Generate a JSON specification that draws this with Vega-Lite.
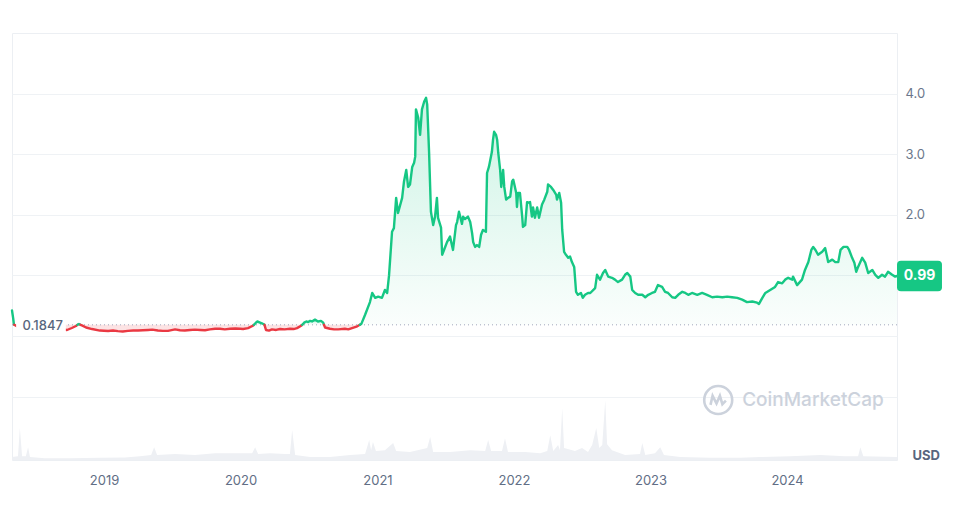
{
  "$schema": "https://vega.github.io/schema/vega-lite/v6.json",
  "width": 885,
  "height": 427,
  "autosize": {"type": "none"},
  "padding": {"left": 12, "top": 33, "right": 66, "bottom": 56},
  "background": "#ffffff",
  "config": {"view": {"stroke": "#eceff3"}, "font": "Inter"},
  "datasets": {
    "one": [{}],
    "price": [
      {"date": "2018-04-30", "price": 0.42, "seg": 1, "dir": "up"},
      {"date": "2018-05-03", "price": 0.30, "seg": 1, "dir": "up"},
      {"date": "2018-05-05", "price": 0.20, "seg": 1, "dir": "up"},
      {"date": "2018-05-06", "price": 0.1847, "seg": 1, "dir": "up"},
      {"date": "2018-05-06", "price": 0.1847, "seg": 2, "dir": "down"},
      {"date": "2018-05-16", "price": 0.15, "seg": 2, "dir": "down"},
      {"date": "2018-06-04", "price": 0.13, "seg": 2, "dir": "down"},
      {"date": "2018-06-30", "price": 0.14, "seg": 2, "dir": "down"},
      {"date": "2018-07-27", "price": 0.12, "seg": 2, "dir": "down"},
      {"date": "2018-08-23", "price": 0.13, "seg": 2, "dir": "down"},
      {"date": "2018-09-11", "price": 0.11, "seg": 2, "dir": "down"},
      {"date": "2018-09-24", "price": 0.099, "seg": 2, "dir": "down"},
      {"date": "2018-10-07", "price": 0.132, "seg": 2, "dir": "down"},
      {"date": "2018-10-18", "price": 0.165, "seg": 2, "dir": "down"},
      {"date": "2018-10-22", "price": 0.1847, "seg": 2, "dir": "down"},
      {"date": "2018-10-22", "price": 0.1847, "seg": 3, "dir": "up"},
      {"date": "2018-10-26", "price": 0.198, "seg": 3, "dir": "up"},
      {"date": "2018-10-30", "price": 0.1847, "seg": 3, "dir": "up"},
      {"date": "2018-10-30", "price": 0.1847, "seg": 4, "dir": "down"},
      {"date": "2018-11-03", "price": 0.175, "seg": 4, "dir": "down"},
      {"date": "2018-11-14", "price": 0.14, "seg": 4, "dir": "down"},
      {"date": "2018-11-30", "price": 0.115, "seg": 4, "dir": "down"},
      {"date": "2018-12-21", "price": 0.09, "seg": 4, "dir": "down"},
      {"date": "2019-01-12", "price": 0.083, "seg": 4, "dir": "down"},
      {"date": "2019-01-25", "price": 0.09, "seg": 4, "dir": "down"},
      {"date": "2019-02-07", "price": 0.08, "seg": 4, "dir": "down"},
      {"date": "2019-02-20", "price": 0.075, "seg": 4, "dir": "down"},
      {"date": "2019-03-06", "price": 0.085, "seg": 4, "dir": "down"},
      {"date": "2019-03-20", "price": 0.09, "seg": 4, "dir": "down"},
      {"date": "2019-04-02", "price": 0.09, "seg": 4, "dir": "down"},
      {"date": "2019-04-15", "price": 0.095, "seg": 4, "dir": "down"},
      {"date": "2019-04-29", "price": 0.10, "seg": 4, "dir": "down"},
      {"date": "2019-05-10", "price": 0.105, "seg": 4, "dir": "down"},
      {"date": "2019-05-25", "price": 0.09, "seg": 4, "dir": "down"},
      {"date": "2019-06-07", "price": 0.085, "seg": 4, "dir": "down"},
      {"date": "2019-06-21", "price": 0.085, "seg": 4, "dir": "down"},
      {"date": "2019-07-10", "price": 0.11, "seg": 4, "dir": "down"},
      {"date": "2019-07-23", "price": 0.095, "seg": 4, "dir": "down"},
      {"date": "2019-08-05", "price": 0.09, "seg": 4, "dir": "down"},
      {"date": "2019-08-19", "price": 0.10, "seg": 4, "dir": "down"},
      {"date": "2019-09-01", "price": 0.105, "seg": 4, "dir": "down"},
      {"date": "2019-09-15", "price": 0.10, "seg": 4, "dir": "down"},
      {"date": "2019-09-28", "price": 0.095, "seg": 4, "dir": "down"},
      {"date": "2019-10-11", "price": 0.11, "seg": 4, "dir": "down"},
      {"date": "2019-10-25", "price": 0.12, "seg": 4, "dir": "down"},
      {"date": "2019-11-07", "price": 0.12, "seg": 4, "dir": "down"},
      {"date": "2019-11-20", "price": 0.11, "seg": 4, "dir": "down"},
      {"date": "2019-12-04", "price": 0.12, "seg": 4, "dir": "down"},
      {"date": "2019-12-18", "price": 0.125, "seg": 4, "dir": "down"},
      {"date": "2019-12-31", "price": 0.12, "seg": 4, "dir": "down"},
      {"date": "2020-01-08", "price": 0.115, "seg": 4, "dir": "down"},
      {"date": "2020-01-21", "price": 0.13, "seg": 4, "dir": "down"},
      {"date": "2020-02-03", "price": 0.17, "seg": 4, "dir": "down"},
      {"date": "2020-02-06", "price": 0.1847, "seg": 4, "dir": "down"},
      {"date": "2020-02-06", "price": 0.1847, "seg": 5, "dir": "up"},
      {"date": "2020-02-11", "price": 0.22, "seg": 5, "dir": "up"},
      {"date": "2020-02-15", "price": 0.24, "seg": 5, "dir": "up"},
      {"date": "2020-02-19", "price": 0.23, "seg": 5, "dir": "up"},
      {"date": "2020-02-27", "price": 0.21, "seg": 5, "dir": "up"},
      {"date": "2020-03-04", "price": 0.19, "seg": 5, "dir": "up"},
      {"date": "2020-03-05", "price": 0.1847, "seg": 5, "dir": "up"},
      {"date": "2020-03-05", "price": 0.1847, "seg": 6, "dir": "down"},
      {"date": "2020-03-09", "price": 0.10, "seg": 6, "dir": "down"},
      {"date": "2020-03-17", "price": 0.09, "seg": 6, "dir": "down"},
      {"date": "2020-03-25", "price": 0.11, "seg": 6, "dir": "down"},
      {"date": "2020-04-05", "price": 0.10, "seg": 6, "dir": "down"},
      {"date": "2020-04-16", "price": 0.115, "seg": 6, "dir": "down"},
      {"date": "2020-04-28", "price": 0.11, "seg": 6, "dir": "down"},
      {"date": "2020-05-12", "price": 0.12, "seg": 6, "dir": "down"},
      {"date": "2020-05-22", "price": 0.115, "seg": 6, "dir": "down"},
      {"date": "2020-05-31", "price": 0.13, "seg": 6, "dir": "down"},
      {"date": "2020-06-11", "price": 0.17, "seg": 6, "dir": "down"},
      {"date": "2020-06-14", "price": 0.1847, "seg": 6, "dir": "down"},
      {"date": "2020-06-14", "price": 0.1847, "seg": 7, "dir": "up"},
      {"date": "2020-06-19", "price": 0.22, "seg": 7, "dir": "up"},
      {"date": "2020-06-25", "price": 0.24, "seg": 7, "dir": "up"},
      {"date": "2020-06-30", "price": 0.23, "seg": 7, "dir": "up"},
      {"date": "2020-07-05", "price": 0.25, "seg": 7, "dir": "up"},
      {"date": "2020-07-10", "price": 0.24, "seg": 7, "dir": "up"},
      {"date": "2020-07-18", "price": 0.27, "seg": 7, "dir": "up"},
      {"date": "2020-07-26", "price": 0.24, "seg": 7, "dir": "up"},
      {"date": "2020-08-03", "price": 0.25, "seg": 7, "dir": "up"},
      {"date": "2020-08-09", "price": 0.22, "seg": 7, "dir": "up"},
      {"date": "2020-08-11", "price": 0.1847, "seg": 7, "dir": "up"},
      {"date": "2020-08-11", "price": 0.1847, "seg": 8, "dir": "down"},
      {"date": "2020-08-14", "price": 0.14, "seg": 8, "dir": "down"},
      {"date": "2020-08-27", "price": 0.12, "seg": 8, "dir": "down"},
      {"date": "2020-09-07", "price": 0.11, "seg": 8, "dir": "down"},
      {"date": "2020-09-18", "price": 0.11, "seg": 8, "dir": "down"},
      {"date": "2020-10-06", "price": 0.12, "seg": 8, "dir": "down"},
      {"date": "2020-10-15", "price": 0.11, "seg": 8, "dir": "down"},
      {"date": "2020-10-25", "price": 0.13, "seg": 8, "dir": "down"},
      {"date": "2020-11-08", "price": 0.16, "seg": 8, "dir": "down"},
      {"date": "2020-11-15", "price": 0.1847, "seg": 8, "dir": "down"},
      {"date": "2020-11-15", "price": 0.1847, "seg": 9, "dir": "up"},
      {"date": "2020-11-19", "price": 0.20, "seg": 9, "dir": "up"},
      {"date": "2020-11-29", "price": 0.35, "seg": 9, "dir": "up"},
      {"date": "2020-12-12", "price": 0.56, "seg": 9, "dir": "up"},
      {"date": "2020-12-18", "price": 0.71, "seg": 9, "dir": "up"},
      {"date": "2020-12-26", "price": 0.63, "seg": 9, "dir": "up"},
      {"date": "2021-01-03", "price": 0.65, "seg": 9, "dir": "up"},
      {"date": "2021-01-13", "price": 0.63, "seg": 9, "dir": "up"},
      {"date": "2021-01-21", "price": 0.76, "seg": 9, "dir": "up"},
      {"date": "2021-01-27", "price": 0.71, "seg": 9, "dir": "up"},
      {"date": "2021-02-01", "price": 1.00, "seg": 9, "dir": "up"},
      {"date": "2021-02-09", "price": 1.72, "seg": 9, "dir": "up"},
      {"date": "2021-02-14", "price": 1.78, "seg": 9, "dir": "up"},
      {"date": "2021-02-20", "price": 2.28, "seg": 9, "dir": "up"},
      {"date": "2021-02-25", "price": 2.03, "seg": 9, "dir": "up"},
      {"date": "2021-03-08", "price": 2.28, "seg": 9, "dir": "up"},
      {"date": "2021-03-13", "price": 2.55, "seg": 9, "dir": "up"},
      {"date": "2021-03-19", "price": 2.74, "seg": 9, "dir": "up"},
      {"date": "2021-03-24", "price": 2.46, "seg": 9, "dir": "up"},
      {"date": "2021-03-29", "price": 2.50, "seg": 9, "dir": "up"},
      {"date": "2021-04-04", "price": 2.79, "seg": 9, "dir": "up"},
      {"date": "2021-04-09", "price": 2.86, "seg": 9, "dir": "up"},
      {"date": "2021-04-12", "price": 2.96, "seg": 9, "dir": "up"},
      {"date": "2021-04-14", "price": 3.74, "seg": 9, "dir": "up"},
      {"date": "2021-04-20", "price": 3.60, "seg": 9, "dir": "up"},
      {"date": "2021-04-25", "price": 3.32, "seg": 9, "dir": "up"},
      {"date": "2021-04-30", "price": 3.74, "seg": 9, "dir": "up"},
      {"date": "2021-05-06", "price": 3.87, "seg": 9, "dir": "up"},
      {"date": "2021-05-11", "price": 3.93, "seg": 9, "dir": "up"},
      {"date": "2021-05-14", "price": 3.82, "seg": 9, "dir": "up"},
      {"date": "2021-05-19", "price": 3.04, "seg": 9, "dir": "up"},
      {"date": "2021-05-24", "price": 2.05, "seg": 9, "dir": "up"},
      {"date": "2021-05-30", "price": 1.83, "seg": 9, "dir": "up"},
      {"date": "2021-06-04", "price": 1.97, "seg": 9, "dir": "up"},
      {"date": "2021-06-09", "price": 2.28, "seg": 9, "dir": "up"},
      {"date": "2021-06-12", "price": 1.95, "seg": 9, "dir": "up"},
      {"date": "2021-06-20", "price": 1.79, "seg": 9, "dir": "up"},
      {"date": "2021-06-23", "price": 1.34, "seg": 9, "dir": "up"},
      {"date": "2021-06-28", "price": 1.42, "seg": 9, "dir": "up"},
      {"date": "2021-07-06", "price": 1.55, "seg": 9, "dir": "up"},
      {"date": "2021-07-14", "price": 1.64, "seg": 9, "dir": "up"},
      {"date": "2021-07-22", "price": 1.42, "seg": 9, "dir": "up"},
      {"date": "2021-07-30", "price": 1.83, "seg": 9, "dir": "up"},
      {"date": "2021-08-02", "price": 1.88, "seg": 9, "dir": "up"},
      {"date": "2021-08-07", "price": 2.05, "seg": 9, "dir": "up"},
      {"date": "2021-08-15", "price": 1.85, "seg": 9, "dir": "up"},
      {"date": "2021-08-18", "price": 1.97, "seg": 9, "dir": "up"},
      {"date": "2021-08-23", "price": 1.93, "seg": 9, "dir": "up"},
      {"date": "2021-08-31", "price": 1.97, "seg": 9, "dir": "up"},
      {"date": "2021-09-06", "price": 1.88, "seg": 9, "dir": "up"},
      {"date": "2021-09-11", "price": 1.70, "seg": 9, "dir": "up"},
      {"date": "2021-09-14", "price": 1.55, "seg": 9, "dir": "up"},
      {"date": "2021-09-19", "price": 1.47, "seg": 9, "dir": "up"},
      {"date": "2021-09-24", "price": 1.50, "seg": 9, "dir": "up"},
      {"date": "2021-09-30", "price": 1.47, "seg": 9, "dir": "up"},
      {"date": "2021-10-05", "price": 1.67, "seg": 9, "dir": "up"},
      {"date": "2021-10-10", "price": 1.75, "seg": 9, "dir": "up"},
      {"date": "2021-10-18", "price": 1.72, "seg": 9, "dir": "up"},
      {"date": "2021-10-21", "price": 2.69, "seg": 9, "dir": "up"},
      {"date": "2021-10-26", "price": 2.79, "seg": 9, "dir": "up"},
      {"date": "2021-11-03", "price": 3.04, "seg": 9, "dir": "up"},
      {"date": "2021-11-06", "price": 3.24, "seg": 9, "dir": "up"},
      {"date": "2021-11-09", "price": 3.37, "seg": 9, "dir": "up"},
      {"date": "2021-11-14", "price": 3.32, "seg": 9, "dir": "up"},
      {"date": "2021-11-17", "price": 3.24, "seg": 9, "dir": "up"},
      {"date": "2021-11-20", "price": 3.02, "seg": 9, "dir": "up"},
      {"date": "2021-11-25", "price": 2.74, "seg": 9, "dir": "up"},
      {"date": "2021-11-28", "price": 2.46, "seg": 9, "dir": "up"},
      {"date": "2021-12-03", "price": 2.74, "seg": 9, "dir": "up"},
      {"date": "2021-12-06", "price": 2.46, "seg": 9, "dir": "up"},
      {"date": "2021-12-11", "price": 2.25, "seg": 9, "dir": "up"},
      {"date": "2021-12-16", "price": 2.28, "seg": 9, "dir": "up"},
      {"date": "2021-12-22", "price": 2.30, "seg": 9, "dir": "up"},
      {"date": "2021-12-27", "price": 2.55, "seg": 9, "dir": "up"},
      {"date": "2021-12-30", "price": 2.58, "seg": 9, "dir": "up"},
      {"date": "2022-01-01", "price": 2.53, "seg": 9, "dir": "up"},
      {"date": "2022-01-07", "price": 2.36, "seg": 9, "dir": "up"},
      {"date": "2022-01-09", "price": 2.13, "seg": 9, "dir": "up"},
      {"date": "2022-01-12", "price": 2.36, "seg": 9, "dir": "up"},
      {"date": "2022-01-17", "price": 2.36, "seg": 9, "dir": "up"},
      {"date": "2022-01-23", "price": 1.97, "seg": 9, "dir": "up"},
      {"date": "2022-01-25", "price": 1.80, "seg": 9, "dir": "up"},
      {"date": "2022-01-31", "price": 1.83, "seg": 9, "dir": "up"},
      {"date": "2022-02-05", "price": 2.21, "seg": 9, "dir": "up"},
      {"date": "2022-02-08", "price": 2.20, "seg": 9, "dir": "up"},
      {"date": "2022-02-13", "price": 2.21, "seg": 9, "dir": "up"},
      {"date": "2022-02-18", "price": 1.97, "seg": 9, "dir": "up"},
      {"date": "2022-02-21", "price": 2.12, "seg": 9, "dir": "up"},
      {"date": "2022-02-26", "price": 1.95, "seg": 9, "dir": "up"},
      {"date": "2022-03-04", "price": 2.12, "seg": 9, "dir": "up"},
      {"date": "2022-03-09", "price": 1.95, "seg": 9, "dir": "up"},
      {"date": "2022-03-17", "price": 2.17, "seg": 9, "dir": "up"},
      {"date": "2022-03-23", "price": 2.25, "seg": 9, "dir": "up"},
      {"date": "2022-03-31", "price": 2.38, "seg": 9, "dir": "up"},
      {"date": "2022-04-02", "price": 2.50, "seg": 9, "dir": "up"},
      {"date": "2022-04-10", "price": 2.46, "seg": 9, "dir": "up"},
      {"date": "2022-04-16", "price": 2.41, "seg": 9, "dir": "up"},
      {"date": "2022-04-24", "price": 2.33, "seg": 9, "dir": "up"},
      {"date": "2022-04-26", "price": 2.25, "seg": 9, "dir": "up"},
      {"date": "2022-05-02", "price": 2.36, "seg": 9, "dir": "up"},
      {"date": "2022-05-07", "price": 2.20, "seg": 9, "dir": "up"},
      {"date": "2022-05-10", "price": 1.75, "seg": 9, "dir": "up"},
      {"date": "2022-05-15", "price": 1.39, "seg": 9, "dir": "up"},
      {"date": "2022-05-20", "price": 1.34, "seg": 9, "dir": "up"},
      {"date": "2022-05-26", "price": 1.29, "seg": 9, "dir": "up"},
      {"date": "2022-05-31", "price": 1.31, "seg": 9, "dir": "up"},
      {"date": "2022-06-05", "price": 1.22, "seg": 9, "dir": "up"},
      {"date": "2022-06-11", "price": 1.14, "seg": 9, "dir": "up"},
      {"date": "2022-06-16", "price": 0.73, "seg": 9, "dir": "up"},
      {"date": "2022-06-21", "price": 0.68, "seg": 9, "dir": "up"},
      {"date": "2022-06-29", "price": 0.71, "seg": 9, "dir": "up"},
      {"date": "2022-07-04", "price": 0.63, "seg": 9, "dir": "up"},
      {"date": "2022-07-10", "price": 0.68, "seg": 9, "dir": "up"},
      {"date": "2022-07-18", "price": 0.71, "seg": 9, "dir": "up"},
      {"date": "2022-07-24", "price": 0.71, "seg": 9, "dir": "up"},
      {"date": "2022-08-06", "price": 0.79, "seg": 9, "dir": "up"},
      {"date": "2022-08-11", "price": 1.01, "seg": 9, "dir": "up"},
      {"date": "2022-08-19", "price": 0.93, "seg": 9, "dir": "up"},
      {"date": "2022-08-27", "price": 1.04, "seg": 9, "dir": "up"},
      {"date": "2022-09-02", "price": 1.09, "seg": 9, "dir": "up"},
      {"date": "2022-09-10", "price": 0.98, "seg": 9, "dir": "up"},
      {"date": "2022-09-20", "price": 0.96, "seg": 9, "dir": "up"},
      {"date": "2022-09-28", "price": 0.93, "seg": 9, "dir": "up"},
      {"date": "2022-10-06", "price": 0.89, "seg": 9, "dir": "up"},
      {"date": "2022-10-17", "price": 0.93, "seg": 9, "dir": "up"},
      {"date": "2022-10-25", "price": 1.01, "seg": 9, "dir": "up"},
      {"date": "2022-10-31", "price": 1.04, "seg": 9, "dir": "up"},
      {"date": "2022-11-08", "price": 0.98, "seg": 9, "dir": "up"},
      {"date": "2022-11-13", "price": 0.76, "seg": 9, "dir": "up"},
      {"date": "2022-11-21", "price": 0.71, "seg": 9, "dir": "up"},
      {"date": "2022-11-29", "price": 0.68, "seg": 9, "dir": "up"},
      {"date": "2022-12-10", "price": 0.68, "seg": 9, "dir": "up"},
      {"date": "2022-12-18", "price": 0.64, "seg": 9, "dir": "up"},
      {"date": "2022-12-26", "price": 0.68, "seg": 9, "dir": "up"},
      {"date": "2023-01-05", "price": 0.71, "seg": 9, "dir": "up"},
      {"date": "2023-01-13", "price": 0.73, "seg": 9, "dir": "up"},
      {"date": "2023-01-21", "price": 0.84, "seg": 9, "dir": "up"},
      {"date": "2023-02-01", "price": 0.81, "seg": 9, "dir": "up"},
      {"date": "2023-02-09", "price": 0.73, "seg": 9, "dir": "up"},
      {"date": "2023-02-17", "price": 0.71, "seg": 9, "dir": "up"},
      {"date": "2023-02-28", "price": 0.64, "seg": 9, "dir": "up"},
      {"date": "2023-03-08", "price": 0.63, "seg": 9, "dir": "up"},
      {"date": "2023-03-16", "price": 0.68, "seg": 9, "dir": "up"},
      {"date": "2023-03-27", "price": 0.73, "seg": 9, "dir": "up"},
      {"date": "2023-04-04", "price": 0.71, "seg": 9, "dir": "up"},
      {"date": "2023-04-12", "price": 0.68, "seg": 9, "dir": "up"},
      {"date": "2023-04-22", "price": 0.71, "seg": 9, "dir": "up"},
      {"date": "2023-05-06", "price": 0.68, "seg": 9, "dir": "up"},
      {"date": "2023-05-19", "price": 0.71, "seg": 9, "dir": "up"},
      {"date": "2023-06-01", "price": 0.68, "seg": 9, "dir": "up"},
      {"date": "2023-06-15", "price": 0.64, "seg": 9, "dir": "up"},
      {"date": "2023-06-28", "price": 0.65, "seg": 9, "dir": "up"},
      {"date": "2023-07-12", "price": 0.64, "seg": 9, "dir": "up"},
      {"date": "2023-07-25", "price": 0.65, "seg": 9, "dir": "up"},
      {"date": "2023-08-07", "price": 0.64, "seg": 9, "dir": "up"},
      {"date": "2023-08-21", "price": 0.63, "seg": 9, "dir": "up"},
      {"date": "2023-09-03", "price": 0.60, "seg": 9, "dir": "up"},
      {"date": "2023-09-16", "price": 0.56, "seg": 9, "dir": "up"},
      {"date": "2023-09-30", "price": 0.57, "seg": 9, "dir": "up"},
      {"date": "2023-10-13", "price": 0.55, "seg": 9, "dir": "up"},
      {"date": "2023-10-18", "price": 0.53, "seg": 9, "dir": "up"},
      {"date": "2023-10-27", "price": 0.63, "seg": 9, "dir": "up"},
      {"date": "2023-11-04", "price": 0.71, "seg": 9, "dir": "up"},
      {"date": "2023-11-17", "price": 0.76, "seg": 9, "dir": "up"},
      {"date": "2023-11-30", "price": 0.81, "seg": 9, "dir": "up"},
      {"date": "2023-12-08", "price": 0.89, "seg": 9, "dir": "up"},
      {"date": "2023-12-19", "price": 0.87, "seg": 9, "dir": "up"},
      {"date": "2023-12-27", "price": 0.93, "seg": 9, "dir": "up"},
      {"date": "2024-01-04", "price": 0.96, "seg": 9, "dir": "up"},
      {"date": "2024-01-15", "price": 0.93, "seg": 9, "dir": "up"},
      {"date": "2024-01-17", "price": 0.98, "seg": 9, "dir": "up"},
      {"date": "2024-01-28", "price": 0.84, "seg": 9, "dir": "up"},
      {"date": "2024-02-10", "price": 0.93, "seg": 9, "dir": "up"},
      {"date": "2024-02-18", "price": 1.09, "seg": 9, "dir": "up"},
      {"date": "2024-02-27", "price": 1.22, "seg": 9, "dir": "up"},
      {"date": "2024-03-06", "price": 1.42, "seg": 9, "dir": "up"},
      {"date": "2024-03-11", "price": 1.47, "seg": 9, "dir": "up"},
      {"date": "2024-03-17", "price": 1.42, "seg": 9, "dir": "up"},
      {"date": "2024-03-24", "price": 1.34, "seg": 9, "dir": "up"},
      {"date": "2024-04-04", "price": 1.39, "seg": 9, "dir": "up"},
      {"date": "2024-04-12", "price": 1.45, "seg": 9, "dir": "up"},
      {"date": "2024-04-17", "price": 1.31, "seg": 9, "dir": "up"},
      {"date": "2024-04-20", "price": 1.22, "seg": 9, "dir": "up"},
      {"date": "2024-05-01", "price": 1.26, "seg": 9, "dir": "up"},
      {"date": "2024-05-09", "price": 1.22, "seg": 9, "dir": "up"},
      {"date": "2024-05-17", "price": 1.22, "seg": 9, "dir": "up"},
      {"date": "2024-05-23", "price": 1.42, "seg": 9, "dir": "up"},
      {"date": "2024-05-31", "price": 1.47, "seg": 9, "dir": "up"},
      {"date": "2024-06-10", "price": 1.47, "seg": 9, "dir": "up"},
      {"date": "2024-06-15", "price": 1.42, "seg": 9, "dir": "up"},
      {"date": "2024-06-23", "price": 1.29, "seg": 9, "dir": "up"},
      {"date": "2024-06-29", "price": 1.21, "seg": 9, "dir": "up"},
      {"date": "2024-07-04", "price": 1.06, "seg": 9, "dir": "up"},
      {"date": "2024-07-09", "price": 1.14, "seg": 9, "dir": "up"},
      {"date": "2024-07-20", "price": 1.29, "seg": 9, "dir": "up"},
      {"date": "2024-07-28", "price": 1.21, "seg": 9, "dir": "up"},
      {"date": "2024-08-05", "price": 1.04, "seg": 9, "dir": "up"},
      {"date": "2024-08-16", "price": 1.09, "seg": 9, "dir": "up"},
      {"date": "2024-08-24", "price": 1.01, "seg": 9, "dir": "up"},
      {"date": "2024-09-01", "price": 0.96, "seg": 9, "dir": "up"},
      {"date": "2024-09-11", "price": 1.01, "seg": 9, "dir": "up"},
      {"date": "2024-09-19", "price": 0.98, "seg": 9, "dir": "up"},
      {"date": "2024-09-27", "price": 1.06, "seg": 9, "dir": "up"},
      {"date": "2024-10-08", "price": 1.01, "seg": 9, "dir": "up"},
      {"date": "2024-10-16", "price": 0.98, "seg": 9, "dir": "up"},
      {"date": "2024-10-21", "price": 0.99, "seg": 9, "dir": "up"}
    ],
    "vol": [
      {"date": "2018-04-30", "vol": 7},
      {"date": "2018-05-16", "vol": 9},
      {"date": "2018-05-21", "vol": 75},
      {"date": "2018-05-27", "vol": 9},
      {"date": "2018-06-06", "vol": 9},
      {"date": "2018-06-12", "vol": 30},
      {"date": "2018-06-17", "vol": 7},
      {"date": "2018-07-27", "vol": 4},
      {"date": "2018-10-02", "vol": 4},
      {"date": "2018-12-21", "vol": 5},
      {"date": "2019-02-26", "vol": 6},
      {"date": "2019-04-07", "vol": 9},
      {"date": "2019-05-07", "vol": 12},
      {"date": "2019-05-15", "vol": 30},
      {"date": "2019-05-23", "vol": 12},
      {"date": "2019-07-10", "vol": 14},
      {"date": "2019-09-01", "vol": 12},
      {"date": "2019-10-25", "vol": 16},
      {"date": "2019-12-17", "vol": 16},
      {"date": "2020-02-01", "vol": 16},
      {"date": "2020-02-09", "vol": 30},
      {"date": "2020-02-17", "vol": 14},
      {"date": "2020-03-20", "vol": 16},
      {"date": "2020-04-29", "vol": 14},
      {"date": "2020-05-12", "vol": 14},
      {"date": "2020-05-18", "vol": 70},
      {"date": "2020-05-26", "vol": 12},
      {"date": "2020-07-05", "vol": 7},
      {"date": "2020-08-27", "vol": 7},
      {"date": "2020-10-20", "vol": 12},
      {"date": "2020-11-29", "vol": 14},
      {"date": "2020-12-10", "vol": 47},
      {"date": "2020-12-15", "vol": 23},
      {"date": "2020-12-20", "vol": 42},
      {"date": "2020-12-28", "vol": 21},
      {"date": "2021-01-21", "vol": 23},
      {"date": "2021-02-12", "vol": 40},
      {"date": "2021-02-20", "vol": 21},
      {"date": "2021-03-29", "vol": 19},
      {"date": "2021-05-14", "vol": 28},
      {"date": "2021-05-22", "vol": 54},
      {"date": "2021-05-30", "vol": 19},
      {"date": "2021-07-14", "vol": 19},
      {"date": "2021-09-06", "vol": 23},
      {"date": "2021-10-16", "vol": 21},
      {"date": "2021-10-24", "vol": 47},
      {"date": "2021-11-01", "vol": 21},
      {"date": "2021-11-30", "vol": 21},
      {"date": "2021-12-08", "vol": 51},
      {"date": "2021-12-16", "vol": 19},
      {"date": "2022-01-31", "vol": 19},
      {"date": "2022-03-12", "vol": 16},
      {"date": "2022-03-31", "vol": 21},
      {"date": "2022-04-08", "vol": 58},
      {"date": "2022-04-16", "vol": 21},
      {"date": "2022-04-29", "vol": 35},
      {"date": "2022-05-04", "vol": 23},
      {"date": "2022-05-10", "vol": 121},
      {"date": "2022-05-15", "vol": 28},
      {"date": "2022-06-13", "vol": 21},
      {"date": "2022-07-02", "vol": 28},
      {"date": "2022-07-18", "vol": 19},
      {"date": "2022-07-29", "vol": 35},
      {"date": "2022-08-09", "vol": 75},
      {"date": "2022-08-17", "vol": 28},
      {"date": "2022-08-25", "vol": 35},
      {"date": "2022-09-02", "vol": 140},
      {"date": "2022-09-07", "vol": 37},
      {"date": "2022-09-20", "vol": 23},
      {"date": "2022-10-25", "vol": 12},
      {"date": "2022-12-04", "vol": 14},
      {"date": "2022-12-10", "vol": 40},
      {"date": "2022-12-18", "vol": 12},
      {"date": "2023-01-13", "vol": 16},
      {"date": "2023-01-27", "vol": 30},
      {"date": "2023-02-06", "vol": 12},
      {"date": "2023-03-21", "vol": 7},
      {"date": "2023-06-09", "vol": 5},
      {"date": "2023-08-29", "vol": 5},
      {"date": "2023-10-21", "vol": 7},
      {"date": "2024-01-09", "vol": 9},
      {"date": "2024-03-30", "vol": 12},
      {"date": "2024-06-04", "vol": 9},
      {"date": "2024-07-09", "vol": 9},
      {"date": "2024-07-15", "vol": 30},
      {"date": "2024-07-23", "vol": 9},
      {"date": "2024-10-21", "vol": 7}
    ]
  },
  "layer": [
    {
      "data": {"name": "vol"},
      "mark": {"type": "area", "color": "#eef0f4", "opacity": 1, "interpolate": "linear"},
      "encoding": {
        "x": {
          "field": "date", "type": "temporal",
          "scale": {"domain": [{"year": 2018, "month": 4, "date": 30}, {"year": 2024, "month": 10, "date": 21}], "nice": false},
          "axis": {
            "values": [{"year": 2019, "month": 1, "date": 1}, {"year": 2020, "month": 1, "date": 1}, {"year": 2021, "month": 1, "date": 1}, {"year": 2022, "month": 1, "date": 1}, {"year": 2023, "month": 1, "date": 1}, {"year": 2024, "month": 1, "date": 1}],
            "format": "%Y", "title": null, "grid": false, "domain": false, "ticks": false,
            "labelPadding": 14, "labelFontSize": 13, "labelColor": "#616e85", "labelFont": "Inter"
          }
        },
        "y": {"field": "vol", "type": "quantitative", "stack": null, "scale": {"domain": [0, 1000], "nice": false}, "axis": null}
      }
    },
    {
      "layer": [
        {
          "data": {"name": "price"},
          "transform": [{"filter": "datum.dir === 'up'"}],
          "mark": {
            "type": "area", "opacity": 1,
            "color": {"gradient": "linear", "x1": 0, "y1": 0, "x2": 0, "y2": 1,
              "stops": [{"offset": 0, "color": "rgba(22,199,132,0.22)"}, {"offset": 1, "color": "rgba(22,199,132,0.02)"}]}
          },
          "encoding": {
            "x": {"field": "date", "type": "temporal"},
            "y": {
              "field": "price", "type": "quantitative", "stack": null,
              "scale": {"domain": [-2.046, 5], "nice": false, "zero": false},
              "axis": {
                "orient": "right", "values": [-1, 0, 1, 2, 3, 4],
                "labelExpr": "datum.value >= 2 && datum.value <= 4 ? format(datum.value, '.1f') : ''",
                "grid": true, "gridColor": "#eff2f5", "domain": false, "ticks": false,
                "labelPadding": 8, "labelFontSize": 13, "labelColor": "#6b778c", "labelFont": "Inter",
                "labelAlign": "left", "labelBaseline": "middle",
                "title": "USD", "titleAngle": 0, "titleX": 15, "titleY": 422,
                "titleAlign": "left", "titleBaseline": "middle", "titleFontSize": 13,
                "titleFontWeight": "bold", "titleColor": "#58667e", "titleFont": "Inter"
              }
            },
            "y2": {"datum": 0.1847},
            "detail": {"field": "seg"}
          }
        },
        {
          "data": {"name": "price"},
          "transform": [{"filter": "datum.dir === 'down'"}],
          "mark": {"type": "area", "color": "#ea3943", "opacity": 0.14},
          "encoding": {
            "x": {"field": "date", "type": "temporal"},
            "y": {"field": "price", "type": "quantitative", "stack": null},
            "y2": {"datum": 0.1847},
            "detail": {"field": "seg"}
          }
        },
        {
          "data": {"name": "one"},
          "mark": {"type": "rule", "color": "#a1a7bb", "strokeWidth": 1, "strokeDash": [1, 3]},
          "encoding": {"y": {"datum": 0.1847}}
        },
        {
          "data": {"name": "price"},
          "mark": {"type": "line", "strokeWidth": 2.4, "strokeJoin": "round", "strokeCap": "round"},
          "encoding": {
            "x": {"field": "date", "type": "temporal"},
            "y": {"field": "price", "type": "quantitative"},
            "color": {"field": "dir", "type": "nominal", "scale": {"domain": ["up", "down"], "range": ["#16c784", "#ea3943"]}, "legend": null},
            "detail": {"field": "seg"}
          }
        },
        {
          "data": {"name": "one"},
          "mark": {"type": "rect", "color": "#ffffff", "opacity": 1},
          "encoding": {
            "x": {"datum": {"year": 2018, "month": 5, "date": 11}, "type": "temporal"},
            "x2": {"datum": {"year": 2018, "month": 9, "date": 21}},
            "y": {"datum": 0.04},
            "y2": {"datum": 0.33}
          }
        },
        {
          "data": {"name": "one"},
          "mark": {"type": "text", "text": "0.1847", "align": "right", "baseline": "middle", "dy": 1, "fontSize": 13, "fontWeight": 500, "color": "#58667e", "font": "Inter"},
          "encoding": {
            "x": {"datum": {"year": 2018, "month": 9, "date": 13}, "type": "temporal"},
            "y": {"datum": 0.1847}
          }
        },
        {
          "data": {"name": "one"},
          "mark": {"type": "point", "shape": "M0.26,-1H2.68Q2.94,-1 2.94,-0.74V0.74Q2.94,1 2.68,1H0.26Q0,1 0,0.74V-0.74Q0,-1 0.26,-1Z", "size": 936, "filled": true, "color": "#16c784", "opacity": 1, "strokeWidth": 0},
          "encoding": {
            "x": {"datum": {"year": 2024, "month": 10, "date": 21}, "type": "temporal"},
            "y": {"datum": 0.99}
          }
        },
        {
          "data": {"name": "one"},
          "mark": {"type": "text", "text": "0.99", "align": "center", "baseline": "middle", "dx": 22.5, "fontSize": 14, "fontWeight": "bold", "color": "#ffffff", "font": "Inter"},
          "encoding": {
            "x": {"datum": {"year": 2024, "month": 10, "date": 21}, "type": "temporal"},
            "y": {"datum": 0.99}
          }
        },
        {
          "data": {"name": "one"},
          "mark": {"type": "point", "shape": "circle", "size": 784, "filled": false, "color": "#ccd2dc", "strokeWidth": 2.6, "opacity": 1},
          "encoding": {
            "x": {"datum": {"year": 2023, "month": 7, "date": 1}, "type": "temporal"},
            "y": {"datum": -1.056}
          }
        },
        {
          "data": {"name": "one"},
          "mark": {"type": "point", "shape": "M-0.55,0.35L-0.4,-0.3L-0.12,0.25L0.12,-0.3L0.3,0.3L0.55,0.05", "size": 784, "filled": false, "color": "#ccd2dc", "strokeWidth": 2.6, "opacity": 1},
          "encoding": {
            "x": {"datum": {"year": 2023, "month": 7, "date": 1}, "type": "temporal"},
            "y": {"datum": -1.056}
          }
        },
        {
          "data": {"name": "one"},
          "mark": {"type": "text", "text": "CoinMarketCap", "align": "left", "baseline": "middle", "fontSize": 19, "fontWeight": 500, "color": "#ccd2dc", "font": "Inter"},
          "encoding": {
            "x": {"datum": {"year": 2023, "month": 9, "date": 3}, "type": "temporal"},
            "y": {"datum": -1.056}
          }
        }
      ]
    }
  ],
  "resolve": {"scale": {"y": "independent"}}
}
